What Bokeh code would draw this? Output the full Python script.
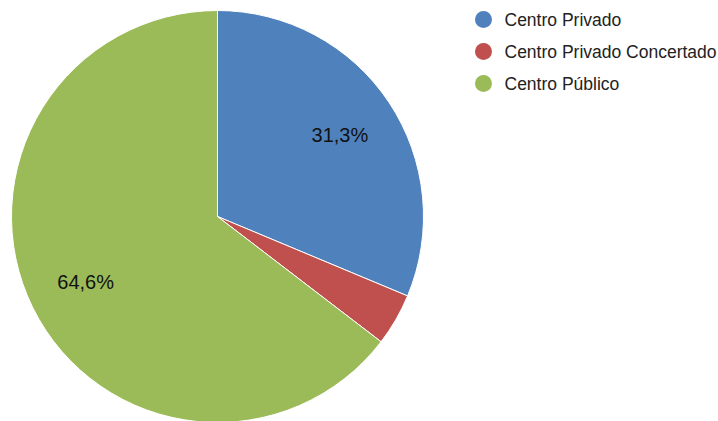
import math
from bokeh.plotting import figure
from bokeh.models import Range1d, ColumnDataSource
from bokeh.core.properties import value
from bokeh.embed import file_html
from bokeh.resources import INLINE

categories = ["Centro Privado", "Centro Privado Concertado", "Centro Público"]
shares = [31.3, 4.1, 64.6]
labels = ["31,3%", "", "64,6%"]
colors = ["#4F81BD", "#C0504D", "#9BBB59"]

W, H = 718, 421
p = figure(width=W, height=H, output_backend="svg", toolbar_location=None,
           x_range=Range1d(0, W), y_range=Range1d(0, H), min_border=0)
p.axis.visible = False
p.grid.visible = False
p.outline_line_color = None
p.background_fill_color = "white"

cx, cy, R = 217, H - 216, 206
total = sum(shares)
starts, ends, lx, ly = [], [], [], []
cum = 0.0
for s in shares:
    a0 = math.pi / 2 - cum / total * 2 * math.pi
    cum += s
    a1 = math.pi / 2 - cum / total * 2 * math.pi
    starts.append(a0)
    ends.append(a1)
    mid = (a0 + a1) / 2
    lx.append(cx + 0.714 * R * math.cos(mid))
    ly.append(cy + 0.714 * R * math.sin(mid))

src = ColumnDataSource(dict(start=starts, end=ends, color=colors, lx=lx, ly=ly, label=labels))
p.wedge(x=cx, y=cy, radius=R, start_angle="start", end_angle="end", direction="clock",
        fill_color="color", line_color="white", line_width=1, source=src)
p.text(x="lx", y="ly", text="label", source=src, text_align="center", text_baseline="middle",
       text_font=value("Liberation Sans"), text_font_size="20px", text_color="#111111")

# legend
leg_x = 483
leg_y = [H - 19 - 32 * i for i in range(len(categories))]
lsrc = ColumnDataSource(dict(x=[leg_x] * 3, y=leg_y, color=colors, name=categories,
                             tx=[leg_x + 21] * 3))
p.scatter(x="x", y="y", size=17, marker="circle", fill_color="color", line_color=None, source=lsrc)
p.text(x="tx", y="y", text="name", source=lsrc, text_baseline="middle", text_align="left",
       text_font=value("Liberation Sans"), text_font_size="17.5px", text_color="#222222")

open("out.html", "w").write(file_html(p, INLINE))
